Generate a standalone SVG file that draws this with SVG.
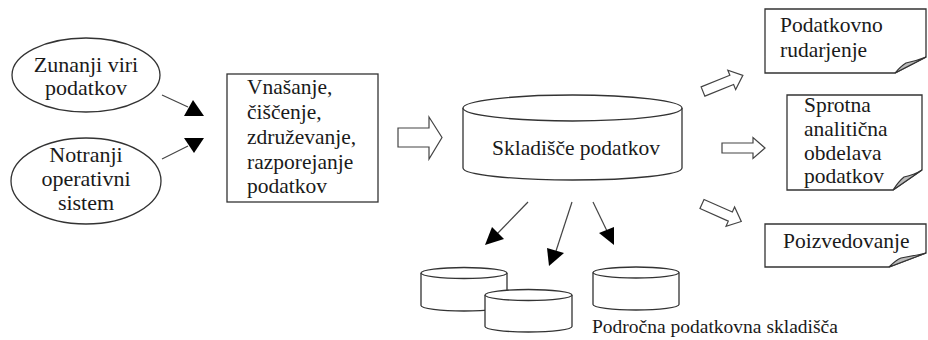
<svg xmlns="http://www.w3.org/2000/svg" width="928" height="340" viewBox="0 0 928 340">
  <style>
    .shape { fill: #fff; stroke: #333; stroke-width: 1.3; }
    .line { fill: none; stroke: #444; stroke-width: 1.2; }
    .head { fill: #000; stroke: none; }
    .block { fill: #fff; stroke: #444; stroke-width: 1.2; }
    .curl { fill: #bbb; stroke: #333; stroke-width: 1.1; }
    text { font-family: "Liberation Serif", "Times New Roman", serif; font-size: 21.5px; fill: #1a1a1a; }
    .mid { text-anchor: middle; }
    .big { font-size: 22px; }
    .small { font-size: 19.5px; }
  </style>
  <defs>
    <!-- hollow block arrow, tail centre at origin, pointing along +x -->
    <path id="blk" d="M0,-5 H31 V-10.5 L43,0 L31,10.5 V5 H0 Z"/>
  </defs>
  <rect width="928" height="340" fill="#fff"/>

  <g id="zunanji-viri">
    <ellipse class="shape" cx="86" cy="75" rx="74" ry="37"/>
    <text class="mid big" x="86" y="72">Zunanji viri</text>
    <text class="mid big" x="86" y="95">podatkov</text>
  </g>

  <g id="notranji-sistem">
    <ellipse class="shape" cx="86" cy="181" rx="75" ry="43"/>
    <text class="mid big" x="86" y="162">Notranji</text>
    <text class="mid big" x="86" y="186">operativni</text>
    <text class="mid big" x="86" y="210">sistem</text>
  </g>

  <g id="vnasanje">
    <rect class="shape" x="227" y="74" width="151" height="128"/>
    <text x="247" y="94">Vnašanje,</text>
    <text x="247" y="119">čiščenje,</text>
    <text x="247" y="144">združevanje,</text>
    <text x="247" y="169">razporejanje</text>
    <text x="247" y="193">podatkov</text>
  </g>

  <g id="skladisce">
    <path class="shape" d="M463,108 V168 A109.5,12 0 0 0 682,168 V108"/>
    <ellipse class="shape" cx="572.5" cy="108" rx="109.5" ry="13"/>
    <text class="mid" x="576" y="155">Skladišče podatkov</text>
  </g>

  <g id="podrocno-1">
    <path class="shape" d="M421,273 V305.5 A43,5.5 0 0 0 507,305.5 V273"/>
    <ellipse class="shape" cx="464" cy="273" rx="43" ry="5.5"/>
  </g>
  <g id="podrocno-2">
    <path class="shape" d="M485,295 V326.5 A43.5,5.5 0 0 0 572,326.5 V295"/>
    <ellipse class="shape" cx="528.5" cy="295" rx="43.5" ry="5.5"/>
  </g>
  <g id="podrocno-3">
    <path class="shape" d="M593,272.5 V304.5 A43,5.5 0 0 0 679,304.5 V272.5"/>
    <ellipse class="shape" cx="636" cy="272.5" rx="43" ry="5.5"/>
  </g>
  <text class="small" x="592" y="333">Področna podatkovna skladišča</text>

  <g id="rudarjenje">
    <path class="shape" d="M765,9 H926 V57 L895,73 H765 Z"/>
    <path class="curl" d="M895,73 Q901,66 906,63 Q916,61 926,57 Z"/>
    <text x="780" y="32">Podatkovno</text>
    <text x="780" y="57">rudarjenje</text>
  </g>

  <g id="sprotna-analiticna">
    <path class="shape" d="M787,95 H922 V170 L893,190 H787 Z"/>
    <path class="curl" d="M893,190 Q899,181 904,177 Q914,175 922,170 Z"/>
    <text x="804" y="112">Sprotna</text>
    <text x="804" y="136">analitična</text>
    <text x="804" y="160">obdelava</text>
    <text x="804" y="183">podatkov</text>
  </g>

  <g id="poizvedovanje">
    <path class="shape" d="M765,224 H926 V253 L889,267 H765 Z"/>
    <path class="curl" d="M889,267 Q896,260 901,258 Q913,256 926,253 Z"/>
    <text x="783" y="248">Poizvedovanje</text>
  </g>

  <g id="connectors">
    <!-- sources into loading step -->
    <line class="line" x1="162" y1="95" x2="188" y2="107"/>
    <polygon class="head" points="193,100 184,116 204,116"/>
    <line class="line" x1="162" y1="159" x2="188" y2="146"/>
    <polygon class="head" points="184,138 204,138 194,153"/>

    <!-- loading step into warehouse -->
    <path class="block" d="M398,128 H429 V117 L442,137.5 L429,159 V147 H398 Z"/>

    <!-- warehouse to data marts -->
    <line class="line" x1="528" y1="202" x2="496" y2="235"/>
    <polygon class="head" points="485,245 492,227 504,239"/>
    <line class="line" x1="572" y1="202" x2="556" y2="251"/>
    <polygon class="head" points="549,266 547,248 564,253"/>
    <line class="line" x1="593" y1="202" x2="607" y2="231"/>
    <polygon class="head" points="614,245 599,233 614,227"/>

    <!-- warehouse to analysis tools -->
    <use href="#blk" class="block" transform="translate(703,91.5) rotate(-22)"/>
    <use href="#blk" class="block" transform="translate(722,148)"/>
    <use href="#blk" class="block" transform="translate(702,204) rotate(24)"/>
  </g>
</svg>
